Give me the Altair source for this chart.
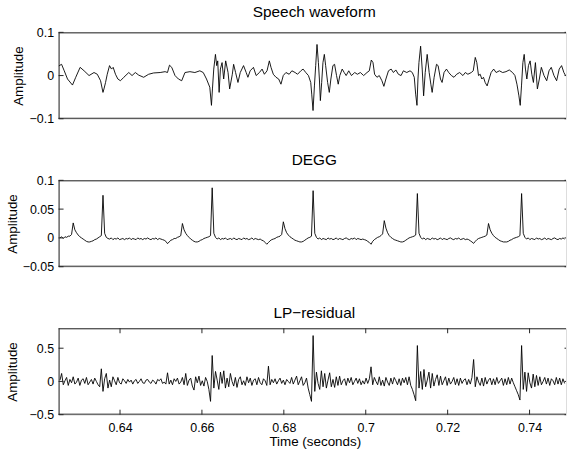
import altair as alt
import pandas as pd

FONT = "Liberation Sans"

# ---------------- data ----------------
# Speech waveform: vertices (time in s, amplitude)
SPEECH_T = [
    0.62500, 0.62573, 0.62638, 0.62718, 0.62839, 0.62919, 0.63026, 0.63123, 0.63244, 0.63365,
    0.63445, 0.63525, 0.63584, 0.63608, 0.63647, 0.63688, 0.63744, 0.63792, 0.63833, 0.63889,
    0.63947, 0.64010, 0.64093, 0.64214, 0.64294, 0.64374, 0.64456, 0.64577, 0.64699, 0.64820,
    0.64980, 0.65101, 0.65159, 0.65208, 0.65263, 0.65343, 0.65426, 0.65506, 0.65586, 0.65707,
    0.65828, 0.65949, 0.66032, 0.66112, 0.66192, 0.66233, 0.66257, 0.66289, 0.66330, 0.66361,
    0.66386, 0.66420, 0.66451, 0.66492, 0.66531, 0.66580, 0.66638, 0.66677, 0.66742, 0.66774,
    0.66822, 0.66880, 0.66936, 0.67016, 0.67081, 0.67123, 0.67178, 0.67258, 0.67324, 0.67404,
    0.67469, 0.67525, 0.67590, 0.67646, 0.67687, 0.67743, 0.67809, 0.67874, 0.67930, 0.67986,
    0.68051, 0.68131, 0.68196, 0.68276, 0.68335, 0.68415, 0.68470, 0.68536, 0.68601, 0.68657,
    0.68681, 0.68713, 0.68747, 0.68778, 0.68810, 0.68844, 0.68868, 0.68892, 0.68924, 0.68955,
    0.68989, 0.69021, 0.69069, 0.69110, 0.69149, 0.69198, 0.69239, 0.69287, 0.69328, 0.69367,
    0.69425, 0.69474, 0.69522, 0.69585, 0.69651, 0.69731, 0.69796, 0.69869, 0.69949, 0.70031,
    0.70087, 0.70136, 0.70177, 0.70216, 0.70274, 0.70330, 0.70395, 0.70443, 0.70492, 0.70555,
    0.70620, 0.70676, 0.70734, 0.70797, 0.70863, 0.70919, 0.71001, 0.71081, 0.71137, 0.71185,
    0.71219, 0.71251, 0.71275, 0.71299, 0.71340, 0.71379, 0.71413, 0.71452, 0.71500, 0.71549,
    0.71590, 0.71622, 0.71670, 0.71728, 0.71767, 0.71825, 0.71864, 0.71912, 0.71971, 0.72026,
    0.72092, 0.72155, 0.72220, 0.72293, 0.72373, 0.72431, 0.72494, 0.72577, 0.72625, 0.72674,
    0.72712, 0.72754, 0.72795, 0.72834, 0.72875, 0.72916, 0.72964, 0.73013, 0.73061, 0.73124,
    0.73183, 0.73263, 0.73343, 0.73425, 0.73505, 0.73585, 0.73643, 0.73692, 0.73740, 0.73772,
    0.73803, 0.73837, 0.73869, 0.73900, 0.73934, 0.73973, 0.74014, 0.74055, 0.74094, 0.74143,
    0.74191, 0.74239, 0.74288, 0.74353, 0.74419, 0.74475, 0.74530, 0.74596, 0.74661, 0.74724,
    0.74782, 0.74838, 0.74879,
]
SPEECH_V = [
    0.022, 0.026, 0.011, -0.008, -0.022, -0.004, 0.019, 0.011, 0.000, 0.007,
    0.003, -0.012, -0.039, -0.031, -0.016, 0.003, 0.023, 0.015, 0.019, 0.003,
    -0.008, -0.012, -0.004, 0.007, 0.000, 0.007, 0.001, -0.004, 0.003, 0.006,
    0.007, 0.009, 0.007, 0.024, 0.019, 0.000, -0.008, -0.012, 0.007, 0.009,
    0.007, 0.011, 0.007, -0.008, -0.027, -0.069, -0.031, 0.015, 0.049, 0.023,
    0.034, -0.039, 0.015, 0.030, -0.008, 0.034, 0.007, -0.031, 0.003, 0.026,
    0.007, -0.016, 0.007, 0.023, 0.007, -0.004, 0.011, 0.019, 0.000, 0.007,
    0.015, 0.003, 0.011, 0.034, 0.019, 0.003, -0.004, -0.008, -0.020, 0.000,
    0.007, 0.003, 0.011, 0.007, 0.003, 0.011, 0.015, 0.007, 0.000, -0.016,
    -0.043, -0.081, -0.024, 0.023, 0.072, 0.030, -0.008, -0.058, -0.016, 0.030,
    0.049, 0.023, -0.016, -0.039, -0.008, 0.023, 0.026, 0.000, -0.020, 0.000,
    0.015, 0.007, 0.000, 0.011, 0.000, 0.007, 0.003, 0.007, 0.000, 0.007,
    0.011, 0.036, 0.030, 0.003, -0.004, 0.000, -0.012, -0.025, -0.008, 0.011,
    0.015, 0.007, 0.013, 0.003, 0.000, 0.011, 0.007, 0.011, 0.007, -0.004,
    -0.043, -0.069, -0.008, 0.030, 0.068, 0.015, -0.047, 0.007, 0.049, 0.007,
    -0.020, -0.039, -0.004, 0.026, 0.023, -0.008, -0.016, 0.007, 0.015, 0.007,
    0.000, -0.004, 0.003, 0.007, 0.000, 0.007, 0.003, 0.007, 0.011, 0.042,
    0.030, 0.000, 0.003, -0.008, -0.004, -0.016, -0.024, -0.008, 0.007, 0.015,
    0.007, 0.011, 0.007, 0.009, 0.013, 0.007, 0.000, -0.020, -0.047, -0.069,
    -0.024, 0.030, 0.049, 0.015, -0.008, 0.023, 0.034, 0.003, -0.016, 0.030,
    -0.031, -0.008, 0.019, 0.000, -0.012, 0.011, 0.019, 0.000, -0.012, 0.015,
    0.023, 0.007, 0.000,
]

# DEGG and LP residual share one sample clock (start time, sample step)
SAMPLE_T0 = 0.62534
SAMPLE_DT = 0.000404

DEGG_V = [
    0.000, 0.002, -0.001, 0.002, 0.001, 0.003, 0.003, 0.006, 0.026, 0.014,
    0.009, 0.005, 0.002, 0.000, -0.002, -0.004, -0.006, -0.007, -0.007, -0.006,
    -0.005, -0.003, -0.002, 0.000, 0.002, 0.004, 0.074, 0.008, 0.001, -0.001,
    -0.002, 0.000, -0.003, -0.001, -0.002, 0.000, -0.003, -0.002, -0.001, -0.003,
    -0.001, -0.002, 0.000, -0.003, -0.001, -0.002, -0.003, 0.000, -0.002, -0.001,
    -0.003, -0.001, -0.002, 0.000, -0.002, -0.003, -0.001, -0.002, 0.000, -0.003,
    -0.001, -0.002, -0.003, -0.004, -0.006, -0.010, -0.007, -0.004, -0.003, -0.001,
    -0.001, 0.001, 0.002, 0.004, 0.025, 0.014, 0.008, 0.004, 0.001, -0.002,
    -0.004, -0.006, -0.007, -0.007, -0.006, -0.004, -0.003, -0.001, 0.000, 0.001,
    0.002, 0.004, 0.087, 0.008, 0.001, -0.002, 0.000, -0.003, -0.001, -0.002,
    0.000, -0.003, -0.002, -0.001, -0.003, 0.000, -0.002, -0.003, -0.001, -0.002,
    -0.003, 0.000, -0.002, -0.001, -0.003, -0.002, 0.000, -0.003, -0.001, -0.002,
    -0.003, -0.002, -0.004, -0.005, -0.008, -0.011, -0.008, -0.005, -0.003, -0.002,
    -0.001, 0.001, 0.002, 0.003, 0.006, 0.028, 0.016, 0.009, 0.005, 0.002,
    0.000, -0.002, -0.004, -0.005, -0.006, -0.007, -0.007, -0.006, -0.004, -0.002,
    0.000, 0.001, 0.003, 0.082, 0.008, 0.001, -0.002, 0.000, -0.003, -0.001,
    -0.002, -0.003, 0.000, -0.002, -0.001, -0.003, -0.002, 0.000, -0.003, -0.001,
    -0.002, -0.003, -0.001, 0.000, -0.002, -0.003, -0.001, -0.002, 0.000, -0.003,
    -0.001, -0.002, -0.003, -0.002, -0.003, -0.004, -0.006, -0.008, -0.011, -0.006,
    -0.003, -0.001, 0.001, 0.002, 0.004, 0.007, 0.030, 0.017, 0.009, 0.004,
    0.001, -0.001, -0.003, -0.004, -0.005, -0.006, -0.007, -0.007, -0.006, -0.004,
    -0.002, 0.000, 0.001, 0.002, 0.003, 0.005, 0.077, 0.008, 0.001, -0.002,
    0.000, -0.003, -0.001, -0.002, -0.003, 0.000, -0.002, -0.001, -0.003, -0.002,
    0.000, -0.003, -0.001, -0.002, -0.003, -0.001, 0.000, -0.002, -0.003, -0.001,
    -0.002, 0.000, -0.003, -0.002, -0.001, -0.003, -0.002, -0.003, -0.005, -0.007,
    -0.0095, -0.006, -0.003, -0.001, 0.000, 0.001, 0.002, 0.003, 0.005, 0.025,
    0.014, 0.008, 0.004, 0.001, -0.001, -0.003, -0.005, -0.006, -0.007, -0.007,
    -0.007, -0.006, -0.004, -0.003, -0.001, 0.000, 0.001, 0.002, 0.004, 0.077,
    0.008, 0.001, -0.002, 0.000, -0.003, -0.001, -0.002, -0.003, 0.000, -0.002,
    -0.001, -0.003, -0.002, 0.000, -0.003, -0.001, -0.002, -0.003, -0.001, 0.000,
    -0.002, -0.003, -0.001, -0.002, 0.000, -0.002,
]

LP_V = [
    0.02, 0.12, -0.05, 0.01, 0.06, -0.06, 0.03, -0.02, 0.07, -0.04,
    -0.01, 0.05, -0.06, 0.02, 0.04, -0.03, 0.06, -0.05, -0.01, 0.03,
    -0.04, 0.05, 0.00, -0.05, -0.08, 0.19, -0.15, 0.04, 0.12, -0.10,
    0.02, -0.08, 0.07, 0.01, -0.05, 0.06, -0.02, -0.04, 0.04, 0.01,
    -0.03, 0.03, -0.01, 0.02, -0.04, 0.01, 0.03, -0.03, 0.00, 0.04,
    -0.02, -0.03, 0.02, 0.03, -0.01, -0.03, 0.02, 0.00, -0.04, 0.03,
    0.01, 0.04, -0.03, -0.01, -0.04, 0.13, -0.04, 0.02, -0.05, 0.04,
    0.00, 0.05, -0.04, -0.01, 0.06, -0.05, 0.12, -0.06, 0.02, 0.05,
    -0.07, -0.13, 0.07, -0.02, 0.08, -0.06, 0.01, -0.07, 0.06, 0.00,
    -0.12, -0.30, 0.39, -0.10, 0.15, 0.02, -0.12, 0.14, -0.03, 0.16,
    -0.10, 0.05, -0.08, 0.12, 0.00, -0.07, 0.06, -0.09, 0.03, 0.07,
    -0.05, 0.01, -0.06, 0.07, -0.02, 0.05, -0.06, 0.02, 0.04, -0.05,
    0.06, -0.02, -0.05, 0.04, 0.01, -0.06, 0.23, -0.05, 0.03, -0.02,
    0.04, -0.04, 0.01, 0.05, -0.03, 0.02, -0.05, 0.03, 0.00, -0.03,
    0.06, -0.04, 0.02, 0.08, -0.05, 0.01, 0.07, -0.06, -0.02, 0.05,
    -0.10, -0.20, -0.30, 0.69, -0.15, 0.14, -0.03, -0.12, 0.16, -0.08,
    0.12, -0.10, 0.02, 0.13, -0.08, 0.03, -0.09, 0.07, -0.06, 0.08,
    -0.05, 0.01, 0.04, -0.06, 0.05, -0.02, 0.06, -0.05, 0.00, 0.05,
    -0.03, 0.04, -0.05, 0.01, -0.04, 0.05, -0.03, 0.04, 0.22, -0.05,
    0.06, 0.00, -0.05, 0.07, -0.06, 0.02, -0.07, 0.06, -0.01, -0.06,
    0.05, -0.04, 0.06, 0.01, -0.05, 0.04, -0.06, 0.05, -0.02, 0.06,
    -0.05, 0.07, -0.06, -0.12, -0.20, -0.29, 0.54, -0.10, 0.15, -0.12,
    0.18, -0.08, 0.02, 0.14, -0.10, 0.12, -0.07, 0.03, 0.10, -0.06,
    0.08, -0.05, 0.01, 0.07, -0.06, 0.05, -0.04, 0.00, 0.06, -0.05,
    0.04, -0.06, 0.05, -0.03, 0.02, 0.04, -0.05, 0.03, -0.04, 0.06,
    0.33, -0.08, 0.07, -0.01, -0.06, 0.05, -0.07, 0.06, -0.04, 0.02,
    0.05, -0.05, 0.04, -0.05, 0.06, -0.03, 0.01, 0.05, -0.06, 0.04,
    -0.05, 0.06, -0.04, 0.05, -0.02, -0.08, -0.14, -0.20, -0.28, 0.54,
    -0.12, 0.14, -0.15, 0.13, -0.02, -0.10, 0.11, -0.08, 0.09, -0.06,
    0.07, -0.05, 0.00, 0.06, -0.04, 0.05, -0.06, 0.04, 0.01, -0.05,
    0.06, -0.04, 0.05, -0.05, 0.04, -0.03,
]

TITLES = ["Speech waveform", "DEGG", "LP\u2212residual"]
Y_DOMAINS = [[-0.1, 0.1], [-0.05, 0.1], [-0.5, 0.8]]
Y_TICKS = [[-0.1, 0, 0.1], [-0.05, 0, 0.05, 0.1], [-0.5, 0, 0.5]]
X_DOMAIN = [0.625, 0.7489]
X_TICKS = [0.64, 0.66, 0.68, 0.70, 0.72, 0.74]
X_LABEL = "Time (seconds)"
Y_LABEL = "Amplitude"

# ---------------- tables ----------------
sample_t = [SAMPLE_T0 + SAMPLE_DT * i for i in range(len(DEGG_V))]
speech_df = pd.DataFrame({"t": SPEECH_T, "v": SPEECH_V})
degg_df = pd.DataFrame({"t": sample_t, "v": DEGG_V})
lp_df = pd.DataFrame({"t": sample_t[:len(LP_V)], "v": LP_V})
dfs = [speech_df, degg_df, lp_df]

W, H = 511, 87
FRAME = "#262626"
TICK_LEN = 5


def panel(k, df, title_x):
    last = k == 2
    xscale = alt.Scale(domain=X_DOMAIN, nice=False, zero=False)
    yscale = alt.Scale(domain=Y_DOMAINS[k], nice=False, zero=False)
    if last:
        xaxis = alt.Axis(values=X_TICKS, format="~g", title=X_LABEL, grid=False,
                         domain=False, ticks=False, tickSize=0, labelPadding=7,
                         labelFontSize=12.5, labelColor="black", labelFont=FONT,
                         labelFlush=False, labelOverlap=False,
                         titleFontSize=13.5, titleFontWeight="normal", titleColor="black",
                         titleFont=FONT, titleBaseline="alphabetic", titleY=31, titleX=258)
    else:
        xaxis = None
    yaxis = alt.Axis(values=Y_TICKS[k], format="~g", title=Y_LABEL, grid=False,
                     domain=False, ticks=False, tickSize=0, labelPadding=5,
                     labelFontSize=12.5, labelColor="black", labelFont=FONT,
                     labelFlush=False, labelOverlap=False,
                     titleFontSize=13.5, titleFontWeight="normal", titleColor="black",
                     titleFont=FONT, titleX=title_x)

    line = alt.Chart(df).mark_line(color="black", strokeWidth=0.9, clip=True).encode(
        x=alt.X("t:Q", scale=xscale, axis=xaxis, title=X_LABEL),
        y=alt.Y("v:Q", scale=yscale, axis=yaxis, title=Y_LABEL),
    )
    ytick_df = pd.DataFrame({"v": Y_TICKS[k]})
    left_ticks = alt.Chart(ytick_df).mark_rule(color=FRAME, strokeWidth=1).encode(
        y=alt.Y("v:Q", scale=yscale, axis=yaxis, title=Y_LABEL),
        x=alt.value(0), x2=alt.value(TICK_LEN))
    right_ticks = alt.Chart(ytick_df).mark_rule(color=FRAME, strokeWidth=1).encode(
        y=alt.Y("v:Q", scale=yscale, axis=yaxis, title=Y_LABEL),
        x=alt.value(W - 1.5), x2=alt.value(W))
    one = pd.DataFrame({"a": [0]})
    top = alt.Chart(one).mark_rule(color=FRAME, strokeWidth=1).encode(
        x=alt.value(0), x2=alt.value(W), y=alt.value(0.5))
    bottom = alt.Chart(one).mark_rule(color=FRAME, strokeWidth=1).encode(
        x=alt.value(0), x2=alt.value(W), y=alt.value(H - 0.5))
    left = alt.Chart(one).mark_rule(color=FRAME, strokeWidth=1).encode(
        x=alt.value(0.5), y=alt.value(0), y2=alt.value(H))
    layers = [line, left_ticks, right_ticks, top, bottom, left]
    if last:
        xtick_df = pd.DataFrame({"t": X_TICKS})
        bt = alt.Chart(xtick_df).mark_rule(color=FRAME, strokeWidth=1).encode(
            x=alt.X("t:Q", scale=xscale, axis=xaxis, title=X_LABEL),
            y=alt.value(H), y2=alt.value(H - TICK_LEN))
        tt = alt.Chart(xtick_df).mark_rule(color=FRAME, strokeWidth=1).encode(
            x=alt.X("t:Q", scale=xscale, axis=xaxis, title=X_LABEL),
            y=alt.value(0), y2=alt.value(TICK_LEN))
        layers += [bt, tt]
    return alt.layer(*layers).properties(
        width=W, height=H,
        title=alt.TitleParams(TITLES[k], fontSize=15.5, fontWeight="normal", font=FONT,
                              color="black", offset=6, dx=2, anchor="middle"),
    )


chart = alt.vconcat(
    panel(0, dfs[0], -33),
    panel(1, dfs[1], -39),
    panel(2, dfs[2], -39),
    spacing=62, bounds="flush",
).properties(
    padding={"left": 5, "top": 3, "right": 0, "bottom": 0},
    background="white",
).configure_view(stroke=None).configure(font=FONT)

chart.save("out.html", embed_options={"renderer": "svg", "actions": False})
